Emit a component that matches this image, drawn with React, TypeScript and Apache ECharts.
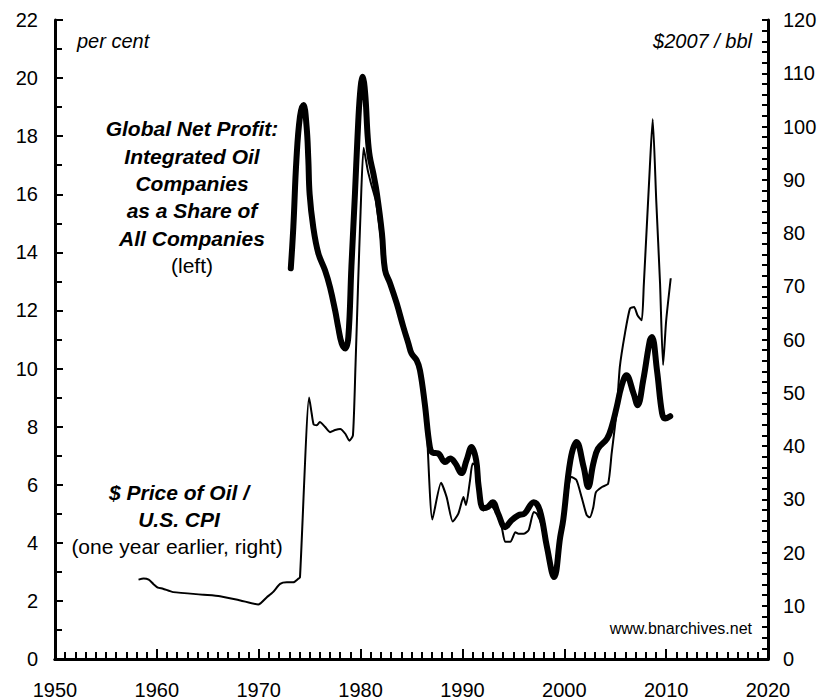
import React, { useEffect, useRef } from "react";
import * as echarts from "echarts";

const FONT = "Arial, 'Liberation Sans', Helvetica, sans-serif";

// Global net profit of integrated oil companies as share of all companies (per cent, left axis)
const profitYears = [
  1973.15, 1973.4, 1973.7, 1974.05, 1974.4, 1974.7, 1974.87, 1975.0, 1975.35, 1975.85,
  1976.5, 1977.0, 1977.5, 1977.8, 1978.15, 1978.5, 1978.8, 1979.1, 1979.45, 1979.7,
  1979.95, 1980.2, 1980.45, 1980.7, 1980.9, 1981.25, 1981.6, 1982.1, 1982.4, 1982.9,
  1983.55, 1984.2, 1984.7, 1985.0, 1985.5, 1985.83, 1986.3, 1986.8, 1987.1, 1987.6,
  1988.3, 1988.8, 1989.3, 1989.9, 1990.4, 1990.9, 1991.35, 1991.6, 1992.05, 1992.5,
  1992.97, 1993.5, 1994.2, 1994.8, 1995.5, 1996.1, 1997.0, 1997.6, 1998.3, 1999.0,
  1999.6, 1999.9, 2000.6, 2001.2, 2001.9, 2002.35, 2002.85, 2003.3, 2004.2, 2004.65,
  2005.15, 2005.6, 2006.1, 2006.8, 2007.2, 2007.75, 2008.4, 2008.6, 2009.1, 2009.6,
  2009.9, 2010.4,
];
const profitValues = [
  13.45, 14.88, 17.18, 18.67, 19.07, 18.33, 17.2, 16.0, 14.88, 13.97,
  13.39, 12.8, 12.0, 11.43, 10.86, 10.69, 11.09, 13.5, 16.03, 17.98,
  19.48, 20.05, 19.48, 17.98, 17.3, 16.72, 16.03, 14.65, 13.39, 12.93,
  12.24, 11.43, 10.86, 10.52, 10.29, 9.94, 8.8, 7.3, 7.1, 7.08,
  6.78, 6.9, 6.74, 6.4, 6.84, 7.3, 6.84, 5.92, 5.19, 5.23,
  5.4, 5.01, 4.54, 4.77, 4.95, 5.01, 5.4, 5.12, 3.85, 2.82,
  4.2, 4.8, 6.84, 7.47, 6.61, 5.92, 6.73, 7.24, 7.59, 7.99,
  8.68, 9.37, 9.77, 9.14, 8.74, 9.6, 10.97, 11.09, 9.94, 8.46,
  8.28, 8.36,
];

// $ price of oil / U.S. CPI, one year earlier ($2007/bbl, right axis)
const oilYears = [
  1958.2, 1958.7, 1959.2, 1959.65, 1960.1, 1960.6, 1961.6, 1964.6, 1966.2, 1968.2,
  1969.96, 1970.8, 1971.4, 1972.1, 1972.75, 1973.4, 1973.9, 1974.05, 1974.95, 1975.2,
  1975.4, 1975.7, 1976.0, 1976.5, 1977.0, 1977.5, 1978.0, 1978.5, 1978.9, 1979.25,
  1979.5, 1979.75, 1980.0, 1980.3, 1980.7, 1981.0, 1981.5, 1982.0, 1982.4, 1982.9,
  1983.5, 1984.2, 1984.7, 1985.0, 1985.5, 1985.85, 1986.2, 1986.5, 1987.05, 1987.9,
  1988.45, 1989.05, 1989.6, 1990.1, 1990.35, 1990.75, 1991.0, 1991.4, 1991.7, 1992.05,
  1992.7, 1993.2, 1993.85, 1994.2, 1994.7, 1995.2, 1995.5, 1996.0, 1996.5, 1997.0,
  1997.3, 1997.8, 1998.3, 1999.0, 1999.6, 2000.2, 2000.7, 2001.2, 2001.7, 2002.2,
  2002.5, 2002.85, 2003.1, 2003.7, 2004.3, 2004.65, 2005.15, 2005.45, 2005.96, 2006.45,
  2006.85, 2007.2, 2007.6, 2007.8, 2008.4, 2008.68, 2009.03, 2009.4, 2009.7, 2010.0,
  2010.45,
];
const oilValues = [
  14.9, 15.1, 14.9, 14.1, 13.4, 13.2, 12.56, 12.07, 11.8, 11.0,
  10.24, 11.6, 12.56, 14.1, 14.4, 14.4, 15.1, 15.3, 49.1, 46.1,
  44.0, 43.9, 44.5, 43.6, 42.6, 43.0, 43.2, 42.3, 41.0, 42.0,
  55, 70, 84, 96, 91.8, 89.5, 86, 79, 73, 70,
  66.5, 62, 59, 57, 55.8, 53.8, 49, 43, 26.2, 33.1,
  30.4, 25.8, 27.3, 30.4, 28.9, 33.6, 36.7, 36.1, 31, 27.9,
  28.9, 27.9, 24.8, 22.0, 22.0, 23.8, 23.5, 23.5, 24.2, 27.6,
  27.3, 25.0, 20.5, 15.1, 22.5, 30.0, 34.2, 33.6, 30.4, 27.0,
  26.6, 28.5, 31.3, 32.3, 32.9, 38.6, 46.7, 54.8, 61.2, 65.8,
  66.1, 64.5, 63.6, 70, 92.4, 101.4, 86, 70.6, 55.2, 63.5,
  71.5,
];

const xTicks = { min: 1950, max: 2020, interval: 10 };
const leftTicks = { min: 0, max: 22, interval: 2 };
const rightTicks = { min: 0, max: 120, interval: 10 };

export default function App() {
  const ref = useRef<HTMLDivElement>(null);
  useEffect(() => {
    if (!ref.current) return;
    const chart = echarts.init(ref.current, undefined, { renderer: "svg" });
    const profitData = profitYears.map((y, i) => [y, profitValues[i]]);
    const oilData = oilYears.map((y, i) => [y, oilValues[i]]);
    const labelStyle = { color: "#000", fontSize: 20, fontFamily: FONT };
    const lineStyle = { color: "#000", width: 3 };
    const textEl = (text: string, x: number, y: number, opts: any = {}) => ({
      type: "text",
      x,
      y,
      style: {
        text,
        fill: "#000",
        fontFamily: FONT,
        fontSize: opts.fontSize ?? 21,
        fontWeight: opts.fontWeight ?? "normal",
        fontStyle: opts.fontStyle ?? "normal",
        align: opts.align ?? "center",
        verticalAlign: "middle",
      },
      z: 100,
    });
    const bi = { fontWeight: "bold", fontStyle: "italic" };
    chart.setOption({
      animation: false,
      backgroundColor: "#fff",
      grid: { left: 55, right: 52, top: 20, bottom: 41 },
      xAxis: [
        {
          type: "value",
          position: "bottom",
          ...xTicks,
          axisLine: { show: true, lineStyle },
          axisTick: { show: true, inside: true, length: 10, lineStyle: { color: "#000", width: 2 } },
          minorTick: { show: true, splitNumber: 10, length: 7, lineStyle: { color: "#000", width: 2 } },
          axisLabel: { ...labelStyle, margin: 21, formatter: (v: number) => String(v) },
          splitLine: { show: false },
          z: 10,
        },
        {
          type: "value",
          position: "top",
          ...xTicks,
          axisLine: { show: true, lineStyle },
          axisTick: { show: false },
          axisLabel: { show: false },
          splitLine: { show: false },
        },
      ],
      yAxis: [
        {
          type: "value",
          position: "left",
          ...leftTicks,
          axisLine: { show: true, lineStyle },
          axisTick: { show: true, inside: true, length: 8, lineStyle: { color: "#000", width: 2 } },
          minorTick: { show: true, splitNumber: 2, length: 7, lineStyle: { color: "#000", width: 2 } },
          axisLabel: { ...labelStyle, margin: 17 },
          splitLine: { show: false },
        },
        {
          type: "value",
          position: "right",
          ...rightTicks,
          axisLine: { show: true, lineStyle },
          axisTick: { show: true, inside: true, length: 6, lineStyle: { color: "#000", width: 2 } },
          minorTick: { show: true, splitNumber: 5, length: 6, lineStyle: { color: "#000", width: 2 } },
          axisLabel: { ...labelStyle, margin: 15 },
          splitLine: { show: false },
        },
      ],
      series: [
        {
          name: "Global Net Profit: Integrated Oil Companies as a Share of All Companies",
          type: "line",
          xAxisIndex: 0,
          yAxisIndex: 0,
          data: profitData,
          showSymbol: false,
          smooth: 0.4,
          lineStyle: { color: "#000", width: 6, cap: "round", join: "round" },
          z: 2,
        },
        {
          name: "$ Price of Oil / U.S. CPI",
          type: "line",
          xAxisIndex: 0,
          yAxisIndex: 1,
          data: oilData,
          showSymbol: false,
          smooth: 0.2,
          lineStyle: { color: "#000", width: 2, join: "round" },
          z: 3,
        },
      ],
      graphic: [
        textEl("per cent", 77, 41, { fontStyle: "italic", fontSize: 20, align: "left" }),
        textEl("$2007 / bbl", 752, 41, { fontStyle: "italic", fontSize: 20, align: "right" }),
        textEl("Global Net Profit:", 192, 128, bi),
        textEl("Integrated Oil", 192, 156, bi),
        textEl("Companies", 192, 183, bi),
        textEl("as a Share of", 192, 210, bi),
        textEl("All Companies", 192, 238, bi),
        textEl("(left)", 192, 265),
        textEl("$ Price of Oil /", 179, 492, bi),
        textEl("U.S. CPI", 179, 519, bi),
        textEl("(one year earlier, right)", 177, 546),
        textEl("www.bnarchives.net", 752, 628, { fontSize: 16, align: "right" }),
      ],
    });
    return () => chart.dispose();
  }, []);
  return (
    <div
      ref={ref}
      style={{ position: "fixed", left: 0, top: 0, width: 820, height: 700, background: "#fff" }}
    />
  );
}
